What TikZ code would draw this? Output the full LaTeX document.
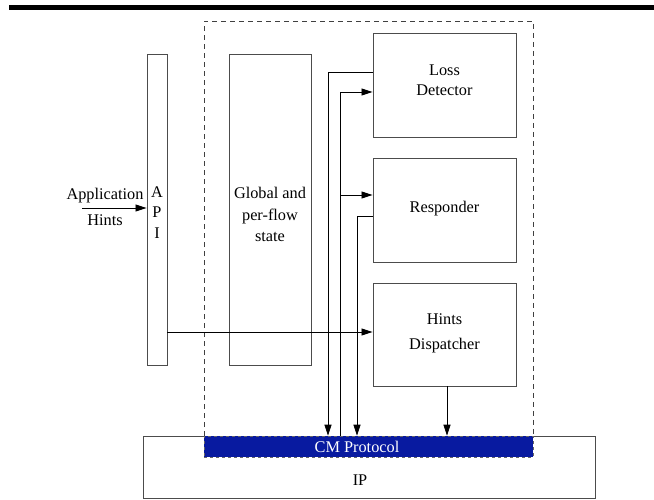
\documentclass[tikz,border=0pt]{standalone}
\usepackage{fontspec}
\setmainfont{Liberation Serif}
\usetikzlibrary{arrows.meta}
\definecolor{cmblue}{RGB}{8,26,160}
\begin{document}
\begin{tikzpicture}[x=1pt,y=-1pt,
  box/.style={draw=black!70,line width=0.9pt,rectangle,inner sep=0pt},
  conn/.style={draw=black,line width=0.8pt},
  arr/.style={conn,-{Triangle[length=11pt,width=7pt]}},
  lbl/.style={inner sep=0pt,align=center,font=\fontsize{16.3}{21}\selectfont}]
\useasboundingbox (0,0) rectangle (654,500);
\fill[black] (9,5) rectangle (654,10);
% IP and CM protocol
\node[box,minimum width=452pt,minimum height=62pt] (ip) at (369,467) {};
\node[lbl] (iplbl) at (360,480) {IP};
\node[draw=black!60,dashed,line width=0.6pt,fill=cmblue,minimum width=329pt,minimum height=21pt,inner sep=0pt] (cm) at (368.5,446.5) {};
\node[lbl,text=white] (cmlbl) at (357,447) {CM Protocol};
% dashed container
\draw[black!75,line width=0.8pt,dash pattern=on 5pt off 4pt] (204,436) -- (204,21) -- (533,21) -- (533,436);
% boxes
\node[box,minimum width=20pt,minimum height=311pt] (api) at (157,209.5) {};
\node[lbl,font=\fontsize{16.3}{20.5}\selectfont] (apilbl) at (157,212.5) {A\\P\\I};
\node[box,minimum width=82pt,minimum height=311pt] (glob) at (270,209.5) {};
\node[lbl,font=\fontsize{16.3}{21.5}\selectfont] (globlbl) at (270,214.5) {Global and\\per-flow\\state};
\node[box,minimum width=143pt,minimum height=104pt] (loss) at (444.5,85) {};
\node[lbl,font=\fontsize{16.3}{20}\selectfont] (losslbl) at (444.5,80) {Loss\\Detector};
\node[box,minimum width=143pt,minimum height=104pt] (resp) at (444.5,210) {};
\node[lbl] (resplbl) at (444.5,209) {Responder};
\node[box,minimum width=143pt,minimum height=103pt] (hints) at (444.5,334.5) {};
\node[lbl,font=\fontsize{16.3}{25}\selectfont] (hintslbl) at (444.5,333.5) {Hints\\Dispatcher};
% application hints
\node[lbl,font=\fontsize{16.3}{26}\selectfont] (app) at (105,206.5) {Application\\Hints};
\coordinate (appin) at (82,208);
\draw[arr] (appin) -- (appin -| api.west);
% connector anchors
\coordinate (lout) at ([yshift=13pt]loss.west);
\coordinate (lin) at ([yshift=-7pt]loss.west);
\coordinate (rin) at ([yshift=15pt]resp.west);
\coordinate (rout) at ([yshift=-6pt]resp.west);
\coordinate (hin) at ([yshift=2.5pt]hints.west);
\coordinate (c1) at ([xshift=-40.5pt]cm.north);
\coordinate (c2) at ([xshift=-28.5pt]cm.north);
\coordinate (c3) at ([xshift=-11.5pt]cm.north);
\coordinate (c4) at ([xshift=2.5pt]hints.south);
% connectors
\draw[arr] (lout) -| (c1);
\draw[arr] (c2) |- (lin);
\draw[arr] (c2 |- rin) -- (rin);
\draw[arr] (rout) -| (c3);
\draw[arr] (c4) -- (c4 |- cm.north);
\draw[arr] (api.east |- hin) -- (hin);
\end{tikzpicture}
\end{document}
